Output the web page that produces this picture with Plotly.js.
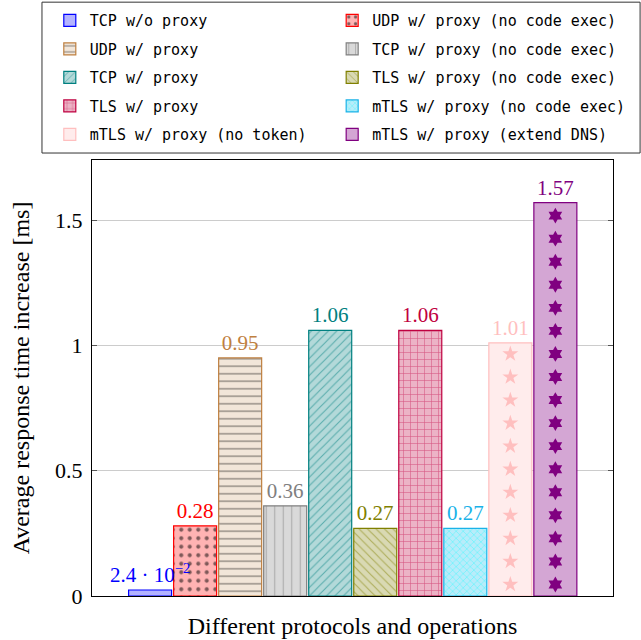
<!DOCTYPE html>
<html>
<head>
<meta charset="utf-8">
<script src="https://cdn.plot.ly/plotly-3.0.1.min.js"></script>
<style>html,body{margin:0;padding:0;background:#fff}</style>
</head>
<body>
<div id="chart" style="width:641px;height:640px"></div>
<script>
// Data (bar order left to right)
const names = [
  "TCP w/o proxy",
  "UDP w/ proxy (no code exec)",
  "UDP w/ proxy",
  "TCP w/ proxy (no code exec)",
  "TCP w/ proxy",
  "TLS w/ proxy (no code exec)",
  "TLS w/ proxy",
  "mTLS w/ proxy (no code exec)",
  "mTLS w/ proxy (no token)",
  "mTLS w/ proxy (extend DNS)"
];
const values = [0.024, 0.28, 0.95, 0.36, 1.06, 0.27, 1.06, 0.27, 1.01, 1.57];
const labels = ["2.4 · 10<sup>−2</sup>", "0.28", "0.95", "0.36", "1.06", "0.27", "1.06", "0.27", "1.01", "1.57"];
const legendColumn = ["legend", "legend2", "legend", "legend2", "legend", "legend2", "legend", "legend2", "legend", "legend2"];
const yTicks = [0, 0.5, 1, 1.5];
const yTickText = ["0", "0.5", "1", "1.5"];

// Styles
const lineColors = ["#0000ff", "#ff0000", "#bf8040", "#808080", "#008080", "#808000", "#bf0040", "#1ab2e8", "#ffbfbf", "#800080"];
const fillColors = ["#b3b3ff", "#ffb3b3", "#f2e6d9", "#d9d9d9", "#b3d9d9", "#d9d9b3", "#ecb3c6", "#b8ecfa", "#ffecec", "#d4a6d4"];
const patFg = ["", "#000000", "#000000", "#808080", "#008080", "#808000", "#bf0040", "#00ffff", "", ""];
const patShapes = ["", ".", "-", "|", "/", "\\", "+", "x", "", ""];
const patSize = [8, 8.5, 7.5, 8.5, 6, 6, 7, 5, 8, 8];
const patSolid = [0.3, 0.18, 0.15, 0.14, 0.18, 0.18, 0.16, 0.22, 0.3, 0.3];
const starSymbols = [null, null, null, null, null, null, null, null, "star", "hexagram"];
const serif = "Liberation Serif, DejaVu Serif, serif";

const traces = [];
// bars added right-to-left so the wide first label is drawn above its neighbour
for (let i = values.length - 1; i >= 0; i--) {
  const v = values[i];
  const marker = {color: fillColors[i], line: {color: lineColors[i], width: 1.2}};
  if (patShapes[i]) {
    marker.pattern = {shape: patShapes[i], fgcolor: patFg[i], fillmode: "overlay", size: patSize[i], solidity: patSolid[i]};
  }
  traces.push({
    type: "bar", x: [i], y: [v], width: 0.955, name: names[i],
    legend: legendColumn[i], legendgroup: "g" + i, legendrank: i + 1,
    marker: marker,
    text: [labels[i]], textposition: "outside", cliponaxis: false, constraintext: "none",
    textfont: {family: serif, size: 21, color: lineColors[i]},
    hoverinfo: "skip"
  });
}
// star decorations for the two starred bars, derived from the values
const starStep = 0.092;
values.forEach((v, i) => {
  if (!starSymbols[i]) return;
  const xs = [], ys = [];
  for (let y = starStep / 2; y < v - 0.01; y += starStep) { xs.push(i); ys.push(y); }
  traces.push({
    type: "scatter", mode: "markers", x: xs, y: ys, showlegend: false, hoverinfo: "skip",
    marker: {symbol: starSymbols[i], size: 12, color: lineColors[i], line: {width: 0}}
  });
});

const legendCommon = {
  orientation: "v", yanchor: "top", xanchor: "left", traceorder: "grouped",
  font: {family: "DejaVu Sans Mono, monospace", size: 15, color: "#000"},
  borderwidth: 0, bgcolor: "rgba(0,0,0,0)", tracegroupgap: 6, itemwidth: 30
};

const layout = {
  width: 641, height: 640,
  margin: {l: 92, r: 28, t: 160, b: 44, autoexpand: false},
  paper_bgcolor: "#fff", plot_bgcolor: "#fff",
  barmode: "overlay",
  showlegend: true,
  legend: Object.assign({}, legendCommon, {x: -0.081, y: 1.3575}),
  legend2: Object.assign({}, legendCommon, {x: 0.461, y: 1.3575}),
  shapes: [{
    type: "rect", xref: "paper", yref: "paper", x0: -0.096, x1: 1.052, y0: 1.016, y1: 1.362,
    line: {color: "#333", width: 1}, fillcolor: "#fff", layer: "above"
  }],
  xaxis: {
    range: [-1.29, 10.28], showticklabels: false, ticks: "", showgrid: false, zeroline: false,
    showline: true, mirror: true, linecolor: "#000", linewidth: 1, automargin: false,
    title: {text: "Different protocols and operations", font: {family: serif, size: 24, color: "#000"}, standoff: 21}
  },
  yaxis: {
    range: [0, 1.74], tickvals: yTicks, ticktext: yTickText,
    ticks: "inside", ticklen: 5, tickcolor: "#555", mirror: "ticks",
    showline: true, linecolor: "#000", linewidth: 1, automargin: false,
    showgrid: true, gridcolor: "#cccccc", gridwidth: 1, zeroline: false,
    tickfont: {family: serif, size: 22, color: "#000"}, ticklabelstandoff: 4,
    title: {text: "Average response time increase [ms]", font: {family: serif, size: 24, color: "#000"}, standoff: 18}
  }
};
Plotly.newPlot("chart", traces, layout, {displayModeBar: false, staticPlot: true});
</script>
</body>
</html>
